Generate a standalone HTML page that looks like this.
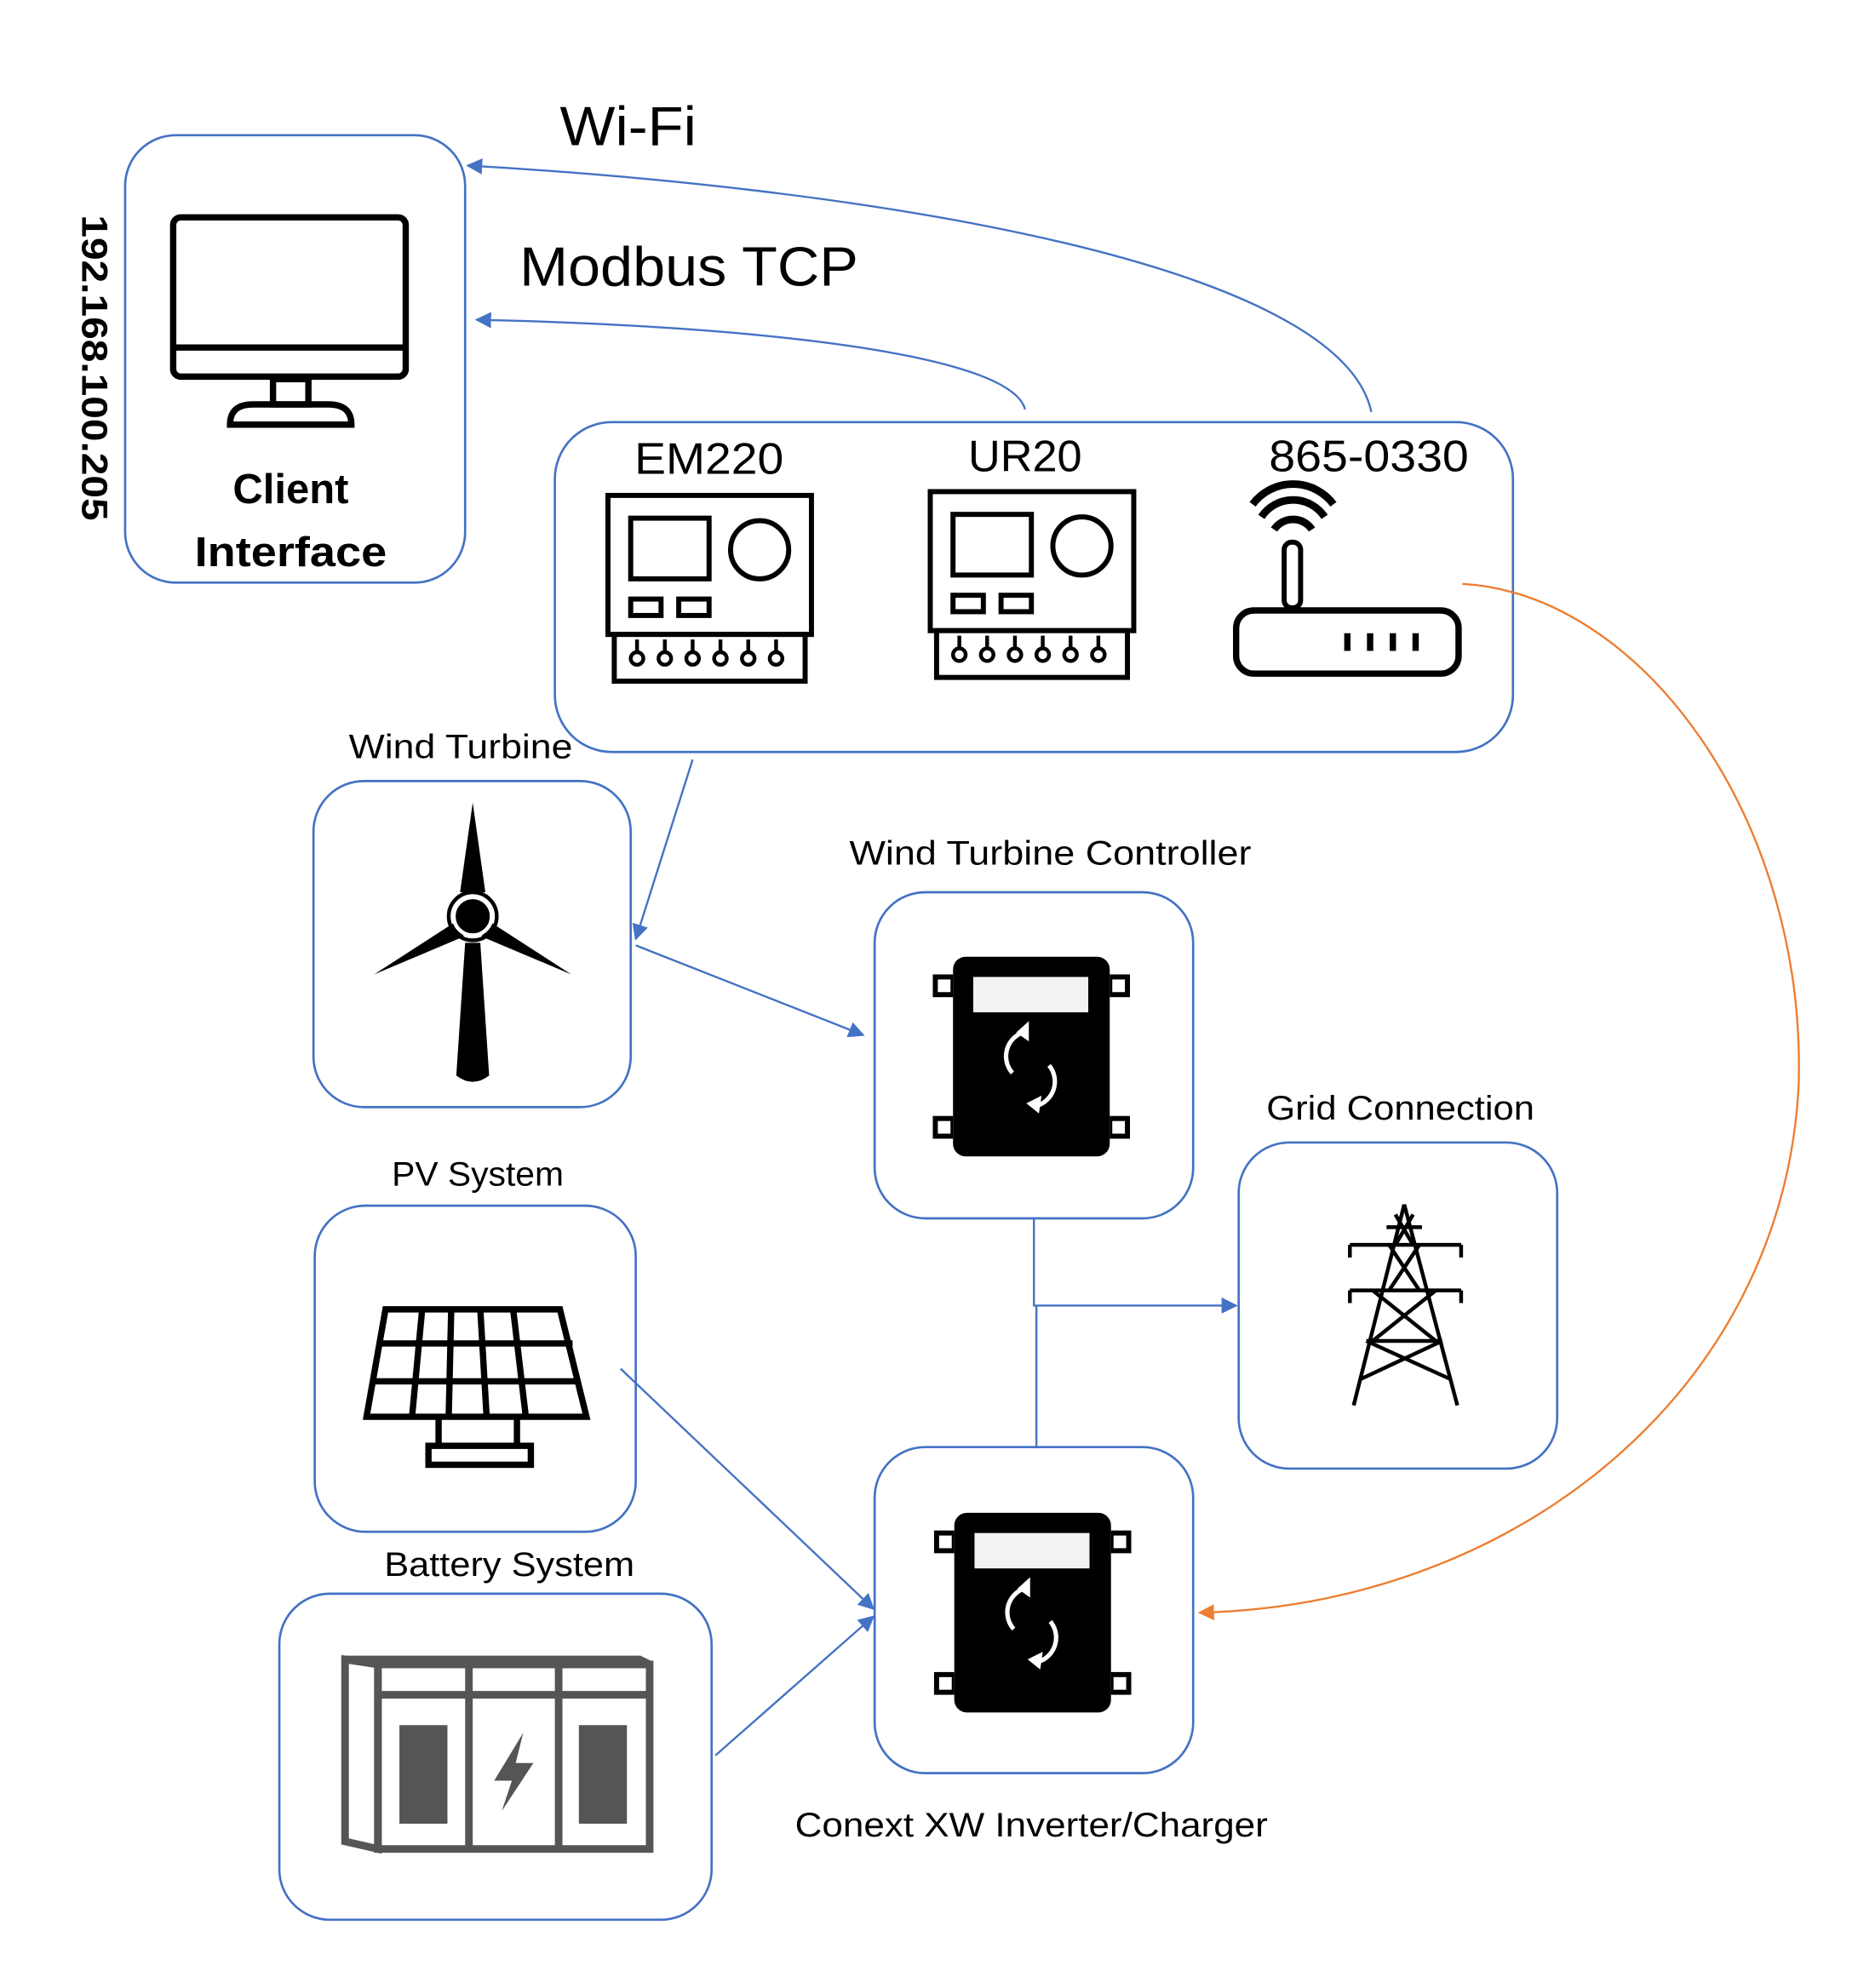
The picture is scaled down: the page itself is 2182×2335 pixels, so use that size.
<!DOCTYPE html>
<html><head><meta charset="utf-8"><style>
html,body{margin:0;padding:0;background:#fff;}
svg{display:block;}
text{font-family:"Liberation Sans",sans-serif;fill:#000;}
</style></head><body>
<svg width="2182" height="2335" viewBox="0 0 1470 1573" preserveAspectRatio="none" xmlns="http://www.w3.org/2000/svg">
<defs>
<marker id="ab" viewBox="0 0 10 10" refX="9" refY="5" markerWidth="8" markerHeight="8" orient="auto"><path d="M0,0 L10,5 L0,10 z" fill="#4472C4"/></marker>
<marker id="ao" viewBox="0 0 10 10" refX="9" refY="5" markerWidth="8" markerHeight="8" orient="auto"><path d="M0,0 L10,5 L0,10 z" fill="#ED7D31"/></marker>
<g id="ctrl">
  <rect x="0" y="0" width="124" height="158" rx="10" fill="#000"/>
  <rect x="16" y="16" width="91" height="28" fill="#f2f2f2"/>
  <rect x="-16" y="14" width="16" height="18" fill="#000"/><rect x="-12" y="18" width="10" height="10" fill="#fff"/>
  <rect x="-16" y="126" width="16" height="18" fill="#000"/><rect x="-12" y="130" width="10" height="10" fill="#fff"/>
  <rect x="124" y="14" width="16" height="18" fill="#000"/><rect x="126" y="18" width="10" height="10" fill="#fff"/>
  <rect x="124" y="126" width="16" height="18" fill="#000"/><rect x="126" y="130" width="10" height="10" fill="#fff"/>
  <path d="M55,80 m0,-20 a20,20 0 0 0 -8,32" fill="none" stroke="#fff" stroke-width="3.5"/>
  <path d="M50,60 l10,-9 l0,16 z" fill="#fff"/>
  <path d="M66,118 a20,20 0 0 0 10,-32" fill="none" stroke="#fff" stroke-width="3.5"/>
  <path d="M68,124 l-10,-8 l12,-6 z" fill="#fff"/>
</g>
<g id="meter">
  <rect x="0" y="0" width="161" height="110" fill="#fff" stroke="#000" stroke-width="4"/>
  <rect x="18" y="18" width="62" height="48" fill="none" stroke="#000" stroke-width="4"/>
  <circle cx="120" cy="43" r="23" fill="none" stroke="#000" stroke-width="4"/>
  <rect x="18" y="82" width="24" height="13" fill="none" stroke="#000" stroke-width="4"/>
  <rect x="56" y="82" width="24" height="13" fill="none" stroke="#000" stroke-width="4"/>
  <rect x="5" y="110" width="151" height="37" fill="#fff" stroke="#000" stroke-width="4"/>
  <g fill="none" stroke="#000" stroke-width="3">
  <circle cx="23" cy="129" r="5"/><circle cx="45" cy="129" r="5"/><circle cx="67" cy="129" r="5"/><circle cx="89" cy="129" r="5"/><circle cx="111" cy="129" r="5"/><circle cx="133" cy="129" r="5"/>
  <path d="M23,124 v-10 M45,124 v-10 M67,124 v-10 M89,124 v-10 M111,124 v-10 M133,124 v-10"/>
  </g>
</g>
</defs>

<!-- Client interface -->
<rect x="99" y="107" width="269" height="354" rx="40" fill="none" stroke="#4472C4" stroke-width="1.8"/>
<rect x="137" y="172" width="184" height="126" rx="6" fill="none" stroke="#000" stroke-width="5"/>
<line x1="137" y1="275" x2="321" y2="275" stroke="#000" stroke-width="5"/>
<rect x="216" y="300" width="28" height="20" fill="none" stroke="#000" stroke-width="5"/>
<path d="M182,336 q0,-16 18,-16 h60 q18,0 18,16 z" fill="none" stroke="#000" stroke-width="5"/>
<text x="230" y="398" font-size="33" font-weight="bold" text-anchor="middle">Client</text>
<text x="230" y="448" font-size="33" font-weight="bold" text-anchor="middle" textLength="152" lengthAdjust="spacingAndGlyphs">Interface</text>
<text transform="translate(65,170) rotate(90)" font-size="29" font-weight="bold" textLength="242" lengthAdjust="spacingAndGlyphs">192.168.100.205</text>

<text x="443" y="115" font-size="44" textLength="108" lengthAdjust="spacingAndGlyphs">Wi-Fi</text>
<text x="411" y="226" font-size="44" textLength="268" lengthAdjust="spacingAndGlyphs">Modbus TCP</text>

<path d="M1085,326 C1060,210 700,150 370,131" fill="none" stroke="#4472C4" stroke-width="1.6" marker-end="url(#ab)"/>
<path d="M811,324 C800,280 600,258 377,253" fill="none" stroke="#4472C4" stroke-width="1.6" marker-end="url(#ab)"/>

<!-- device box -->
<rect x="439" y="334" width="758" height="261" rx="45" fill="none" stroke="#4472C4" stroke-width="1.8"/>
<text x="561" y="375" font-size="35" text-anchor="middle" textLength="118" lengthAdjust="spacingAndGlyphs">EM220</text>
<text x="811" y="373" font-size="35" text-anchor="middle" textLength="90" lengthAdjust="spacingAndGlyphs">UR20</text>
<text x="1083" y="373" font-size="35" text-anchor="middle" textLength="158" lengthAdjust="spacingAndGlyphs">865-0330</text>
<use href="#meter" x="481" y="392"/>
<use href="#meter" x="736" y="389"/>
<rect x="978" y="483" width="176" height="50" rx="14" fill="none" stroke="#000" stroke-width="5"/>
<path d="M1066,501 v14 M1084,501 v14 M1102,501 v14 M1120,501 v14" stroke="#000" stroke-width="5"/>
<rect x="1016" y="429" width="13" height="52" rx="6" fill="none" stroke="#000" stroke-width="4"/>
<path d="M1008,419 a18,18 0 0 1 30,0 M998,409 a30,30 0 0 1 50,0 M991,399 a40,40 0 0 1 64,0" fill="none" stroke="#000" stroke-width="6"/>

<path d="M1157,462 C1300,470 1430,650 1423,860 C1410,1100 1200,1270 949,1276" fill="none" stroke="#ED7D31" stroke-width="1.6" marker-end="url(#ao)"/>

<!-- Wind turbine -->
<text x="276" y="600" font-size="27" textLength="177" lengthAdjust="spacingAndGlyphs">Wind Turbine</text>
<rect x="248" y="618" width="251" height="258" rx="40" fill="none" stroke="#4472C4" stroke-width="1.8"/>
<path d="M374,635 L384,706 L364,706 z" fill="#000"/>
<path d="M367,741 L296,771 L361,729 z" fill="#000"/>
<path d="M381,741 L452,771 L387,729 z" fill="#000"/>
<path d="M368,746 L380,746 L387,851 Q374,861 361,851 z" fill="#000"/>
<circle cx="374" cy="725" r="15" fill="#000" stroke="#fff" stroke-width="3"/>
<circle cx="374" cy="725" r="19" fill="none" stroke="#000" stroke-width="3"/>

<path d="M548,601 L503,743" stroke="#4472C4" stroke-width="1.6" fill="none" marker-end="url(#ab)"/>
<path d="M503,748 L683,819" stroke="#4472C4" stroke-width="1.6" fill="none" marker-end="url(#ab)"/>

<text x="831" y="684" font-size="27" text-anchor="middle" textLength="318" lengthAdjust="spacingAndGlyphs">Wind Turbine Controller</text>
<rect x="692" y="706" width="252" height="258" rx="40" fill="none" stroke="#4472C4" stroke-width="1.8"/>
<use href="#ctrl" x="754" y="757"/>

<text x="1108" y="886" font-size="27" text-anchor="middle" textLength="212" lengthAdjust="spacingAndGlyphs">Grid Connection</text>
<rect x="980" y="904" width="252" height="258" rx="40" fill="none" stroke="#4472C4" stroke-width="1.8"/>
<g fill="none" stroke="#000" stroke-width="3">
<path d="M1111,953 L1071,1112 M1111,953 L1153,1112"/>
<path d="M1068,985 h88 M1068,1021 h88 M1081,1061 h60"/>
<path d="M1068,985 v10 M1156,985 v10 M1068,1021 v10 M1156,1021 v10"/>
<path d="M1097,971 h28 M1099,985 L1123,1021 M1123,985 L1099,1021 M1086,1021 L1136,1061 M1136,1021 L1086,1061 M1081,1061 L1147,1091 M1141,1061 L1077,1091"/>
<path d="M1104,961 L1118,985 M1118,961 L1104,985"/>
</g>

<path d="M818,964 V1033 H978" stroke="#4472C4" stroke-width="1.6" fill="none" marker-end="url(#ab)"/>
<path d="M820,1033 V1146" stroke="#4472C4" stroke-width="1.6" fill="none"/>

<text x="378" y="938" font-size="27" text-anchor="middle" textLength="136" lengthAdjust="spacingAndGlyphs">PV System</text>
<rect x="249" y="954" width="254" height="258" rx="40" fill="none" stroke="#4472C4" stroke-width="1.8"/>
<g fill="none" stroke="#000" stroke-width="5">
<path d="M305,1036 H443 L464,1121 H290 z"/>
<path d="M299,1063 H453 M294,1093 H458"/>
<path d="M334,1036 L326,1121 M357,1036 L355,1121 M380,1036 L385,1121 M406,1036 L416,1121"/>
<path d="M347,1121 V1144 M409,1121 V1144"/>
<rect x="339" y="1144" width="81" height="15"/>
</g>
<path d="M491,1083 L691,1273" stroke="#4472C4" stroke-width="1.6" fill="none" marker-end="url(#ab)"/>

<text x="403" y="1247" font-size="27" text-anchor="middle" textLength="198" lengthAdjust="spacingAndGlyphs">Battery System</text>
<rect x="221" y="1261" width="342" height="258" rx="40" fill="none" stroke="#4472C4" stroke-width="1.8"/>
<g fill="none" stroke="#555" stroke-width="6">
<path d="M273,1313 L299,1317 V1463 L273,1457 z"/>
<rect x="299" y="1317" width="215" height="146"/>
<path d="M299,1341 H514 M371,1317 V1463 M442,1317 V1463 M273,1313 H506 L514,1317"/>
</g>
<rect x="316" y="1365" width="38" height="78" fill="#555"/>
<rect x="458" y="1365" width="38" height="78" fill="#555"/>
<path d="M414,1371 L391,1409 H405 L397,1433 L422,1395 H408 z" fill="#555"/>
<path d="M566,1389 L691,1279" stroke="#4472C4" stroke-width="1.6" fill="none" marker-end="url(#ab)"/>

<rect x="692" y="1145" width="252" height="258" rx="40" fill="none" stroke="#4472C4" stroke-width="1.8"/>
<use href="#ctrl" x="755" y="1197"/>
<text x="816" y="1453" font-size="27" text-anchor="middle" textLength="374" lengthAdjust="spacingAndGlyphs">Conext XW Inverter/Charger</text>
</svg>
</body></html>
